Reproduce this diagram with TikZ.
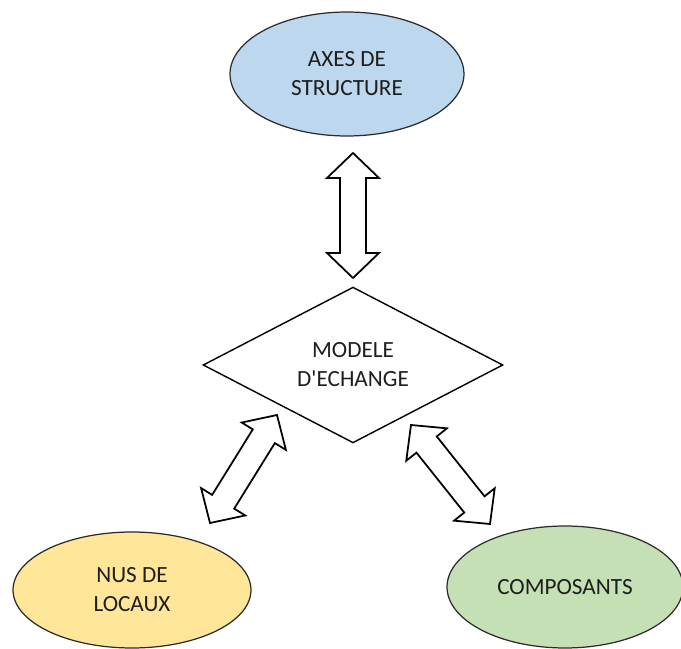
\documentclass[tikz,border=0pt]{standalone}
\usepackage{fontspec}
\setmainfont{Carlito}
\usetikzlibrary{shapes.geometric,calc}
\definecolor{blueFill}{HTML}{BDD7EE}
\definecolor{yellowFill}{HTML}{FFE699}
\definecolor{greenFill}{HTML}{C5E0B4}
\definecolor{edgeCol}{HTML}{2B2B2B}
\definecolor{txtCol}{HTML}{1E1E1E}
\newcommand{\blockarr}[2]{%
  \draw[blockarrow]
    (#1)
    -- ($($(#1)!0.5cm!(#2)$)!0.52cm!90:(#2)$)
    -- ($($(#1)!0.5cm!(#2)$)!0.26cm!90:(#2)$)
    -- ($($(#2)!0.5cm!(#1)$)!0.26cm!-90:(#1)$)
    -- ($($(#2)!0.5cm!(#1)$)!0.52cm!-90:(#1)$)
    -- (#2)
    -- ($($(#2)!0.5cm!(#1)$)!0.52cm!90:(#1)$)
    -- ($($(#2)!0.5cm!(#1)$)!0.26cm!90:(#1)$)
    -- ($($(#1)!0.5cm!(#2)$)!0.26cm!-90:(#2)$)
    -- ($($(#1)!0.5cm!(#2)$)!0.52cm!-90:(#2)$)
    -- cycle;}
\begin{document}
\begin{tikzpicture}[x=0.02cm,y=-0.02cm,
  lbl/.style={text=txtCol,align=center,font=\fontsize{13.2}{16.5}\selectfont,inner sep=0pt},
  oval/.style={ellipse,draw=edgeCol,line width=0.7pt,lbl},
  rhomb/.style={diamond,draw=black,line width=0.8pt,fill=white,lbl},
  blockarrow/.style={draw=black,line width=1pt,fill=white,line join=miter}]
\useasboundingbox[fill=white] (0,0) rectangle (681,649);
\node[oval,fill=blueFill,minimum width=4.68cm,minimum height=2.48cm] (axes) at (347,74) {AXES DE\\STRUCTURE};
\node[rhomb,minimum width=6.0cm,minimum height=2.96cm] (modele) at (353,365) {MODELE\\D\textquotesingle ECHANGE};
\node[oval,fill=yellowFill,minimum width=4.76cm,minimum height=2.32cm] (nus) at (132,590) {NUS DE\\LOCAUX};
\node[oval,fill=greenFill,minimum width=4.72cm,minimum height=2.44cm] (comp) at (565,587) {COMPOSANTS};
\coordinate (v1) at (353,153);
\coordinate (v2) at (353,278);
\coordinate (l1) at (277,415);
\coordinate (l2) at (210,523);
\coordinate (r1) at (411,425);
\coordinate (r2) at (490,524);
\blockarr{v1}{v2}
\blockarr{l1}{l2}
\blockarr{r1}{r2}
\end{tikzpicture}
\end{document}
